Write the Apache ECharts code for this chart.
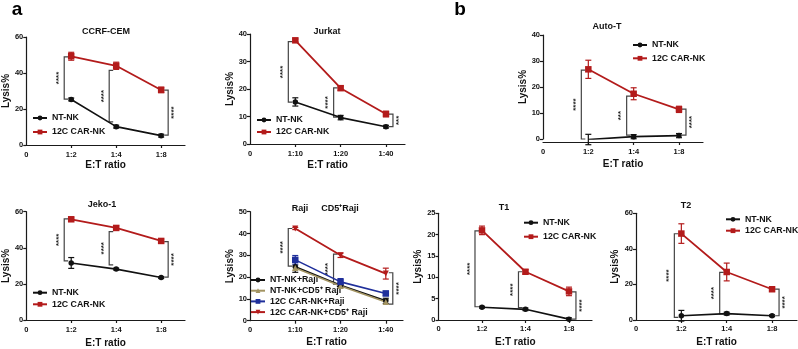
<!DOCTYPE html>
<html>
<head>
<meta charset="utf-8">
<script src="https://cdn.jsdelivr.net/npm/echarts@6/dist/echarts.min.js"></script>
<style>
  html, body { margin: 0; padding: 0; background: #fff; }
  #chart { width: 798px; height: 349px; }
</style>
</head>
<body>
<div id="chart"></div>
<script>
// E:T ratio categories (x = 1, 2, 3)
var ratiosShort = ['1:2', '1:4', '1:8'];
var ratiosLong = ['1:10', '1:20', '1:40'];

// CCRF-CEM
var ccrfNT = [25.3, 10.2, 5.2];
var ccrfNTErr = [0.8, 0.8, 0.8];
var ccrfCAR = [49.3, 44.0, 30.6];
var ccrfCARErr = [2.2, 2.0, 1.5];
var ccrfSig = [[1, 49, 25.5, '****'], [2, 41.5, 12.8, '****'], [3, 30.5, 5.5, '****']];

// Jurkat
var jurkatNT = [15.3, 9.6, 6.3];
var jurkatNTErr = [1.5, 0.8, 0.5];
var jurkatCAR = [37.7, 20.3, 10.9];
var jurkatCARErr = [0.5, 0.8, 1.0];
var jurkatSig = [[1, 37.2, 15.2, '****'], [2, 20.4, 9.8, '****'], [3, 10.9, 6.3, '***']];

// Auto-T
var autoNT = [-0.2, 0.9, 1.3];
var autoNTErr = [2.0, 0.8, 0.8];
var autoCAR = [26.8, 17.4, 11.4];
var autoCARErr = [3.5, 2.3, 1.2];
var autoSig = [[1, 26.5, 0, '****'], [2, 16.5, 1.5, '***'], [3, 11.5, 1.5, '****']];

// Jeko-1
var jekoNT = [31.6, 28.2, 23.5];
var jekoNTErr = [3.0, 0.5, 0.5];
var jekoCAR = [55.8, 51.0, 43.8];
var jekoCARErr = [0.8, 1.2, 1.0];
var jekoSig = [[1, 56, 32.8, '****'], [2, 49, 30.5, '****'], [3, 43.4, 23.7, '****']];

// Raji / CD5+ Raji
var rajiNT = [24.7, 16.3, 9.1];
var rajiNTErr = [2.5, 1.0, 1.2];
var cd5NT = [24.2, 15.9, 8.6];
var cd5NTErr = [1.0, 1.0, 1.0];
var rajiCAR = [27.9, 17.8, 12.5];
var rajiCARErr = [2.0, 1.5, 1.0];
var cd5CAR = [42.3, 30.0, 21.6];
var cd5CARErr = [0.5, 1.0, 2.5];
var rajiSig = [[1, 42.3, 25, '****'], [2, 30.5, 16.8, '****'], [3, 22, 7.6, '****']];

// T1
var t1NT = [3.0, 2.5, 0.2];
var t1NTErr = [0.2, 0.3, 0.3];
var t1CAR = [21.0, 11.3, 6.7];
var t1CARErr = [1.0, 0.5, 1.0];
var t1Sig = [[1, 20.9, 3.1, '****'], [2, 11.3, 2.9, '****'], [3, 6.6, 0.2, '****']];

// T2
var t2NT = [2.4, 3.6, 2.4];
var t2NTErr = [3.0, 0.8, 0.5];
var t2CAR = [48.6, 27.0, 17.3];
var t2CARErr = [5.5, 5.0, 1.0];
var t2Sig = [[1, 48.5, 1.5, '****'], [2, 26.8, 3.4, '****'], [3, 17.4, 2.4, '****']];

var BLACK = '#111111';
var RED = '#b31b1b';
var GOLD = '#a39462';
var BLUE = '#1f2f9b';
var FONT = '"Liberation Sans", Arial, sans-serif';

function nt(mean, err, name) {
  return { name: name || 'NT-NK', mean: mean, err: err, color: BLACK, symbol: 'circle', size: 5.5 };
}
function car(mean, err, name) {
  return { name: name || '12C CAR-NK', mean: mean, err: err, color: RED, symbol: 'rect', size: 6.5 };
}

var panels = [
  { titles: [['CCRF-CEM', 106, 32]], left: 26, top: 37, width: 159, height: 108, xMax: 3.53,
    yMax: 60, yInt: 20, labels: ratiosShort, xNameGap: 15, yNameGap: 13, labelMargin: 5.5,
    series: [nt(ccrfNT, ccrfNTErr), car(ccrfCAR, ccrfCARErr)], sig: ccrfSig,
    legend: { left: 32, top: 113, gap: 4 } },
  { titles: [['Jurkat', 327, 32]], left: 250, top: 34, width: 155, height: 110, xMax: 3.42,
    yMax: 40, yInt: 10, labels: ratiosLong, xNameGap: 16, yNameGap: 15, labelMargin: 5.5,
    series: [nt(jurkatNT, jurkatNTErr), car(jurkatCAR, jurkatCARErr)], sig: jurkatSig,
    legend: { left: 256, top: 115, gap: 2 } },
  { titles: [['Auto-T', 607, 27]], left: 543, top: 35, width: 160, height: 104, xMax: 3.53, xOffset: 3,
    yMax: 40, yInt: 10, labels: ratiosShort, xNameGap: 17, yNameGap: 15, labelMargin: 5.5,
    series: [nt(autoNT, autoNTErr), car(autoCAR, autoCARErr)], sig: autoSig,
    legend: { left: 632, top: 40, gap: 3.3 } },
  { titles: [['Jeko-1', 102, 205]], left: 26, top: 211.7, width: 159, height: 108.3, xMax: 3.53,
    yMax: 60, yInt: 20, labels: ratiosShort, xNameGap: 18, yNameGap: 14, labelMargin: 5.5,
    series: [nt(jekoNT, jekoNTErr), car(jekoCAR, jekoCARErr)], sig: jekoSig,
    legend: { left: 32, top: 287.7, gap: 1.6 } },
  { titles: [['Raji', 300, 209], ['CD5\u207ARaji', 340, 209]], left: 250, top: 211.7, width: 153, height: 109, xMax: 3.38,
    yMax: 50, yInt: 10, labels: ratiosLong, xNameGap: 17, yNameGap: 13, labelMargin: 5.5,
    series: [
      { name: 'NT-NK+Raji', mean: rajiNT, err: rajiNTErr, color: BLACK, symbol: 'circle', size: 5.5 },
      { name: 'NT-NK+CD5\u207A Raji', mean: cd5NT, err: cd5NTErr, color: GOLD, symbol: 'triangle', size: 6 },
      { name: '12C CAR-NK+Raji', mean: rajiCAR, err: rajiCARErr, color: BLUE, symbol: 'rect', size: 6.5 },
      { name: '12C CAR-NK+CD5\u207A Raji', mean: cd5CAR, err: cd5CARErr, color: RED, symbol: 'path://M0,0 L10,0 L5,9 Z', size: 6 }
    ], sig: rajiSig,
    legend: { left: 250, top: 275, gap: 0.7 } },
  { titles: [['T1', 504, 208]], left: 438.5, top: 213.3, width: 153.5, height: 106.7, xMax: 3.53,
    yMax: 25, yInt: 5, labels: ratiosShort, xNameGap: 17.5, yNameGap: 14.5, labelMargin: 5,
    series: [nt(t1NT, t1NTErr), car(t1CAR, t1CARErr)], sig: t1Sig,
    legend: { left: 523, top: 217.7, gap: 4 } },
  { titles: [['T2', 686, 206]], left: 636, top: 213.3, width: 161, height: 106.7, xMax: 3.55,
    yMax: 60, yInt: 20, labels: ratiosShort, xNameGap: 17.5, yNameGap: 16, labelMargin: 5,
    series: [nt(t2NT, t2NTErr), car(t2CAR, t2CARErr)], sig: t2Sig,
    legend: { left: 725, top: 214.3, gap: 1.4 } }
];

function renderErr(params, api) {
  var x = api.value(0);
  var a = api.coord([x, api.value(2)]);
  var b = api.coord([x, api.value(1)]);
  var c = api.visual('color');
  var w = 3;
  var st = { stroke: c, lineWidth: 1.2 };
  return {
    type: 'group',
    children: [
      { type: 'line', shape: { x1: a[0], y1: a[1], x2: b[0], y2: b[1] }, style: st },
      { type: 'line', shape: { x1: a[0] - w, y1: a[1], x2: a[0] + w, y2: a[1] }, style: st },
      { type: 'line', shape: { x1: b[0] - w, y1: b[1], x2: b[0] + w, y2: b[1] }, style: st }
    ]
  };
}

function makeBracket(sig) {
  return function (params, api) {
    var x = api.value(0);
    var t = api.coord([x, api.value(1)]);
    var b = api.coord([x, api.value(2)]);
    var side = params.dataIndex < 2 ? -1 : 1;
    var bx = t[0] + side * 7;
    var tip = bx - side * 4;
    var st = { stroke: '#444', lineWidth: 1.2, fill: null };
    return {
      type: 'group',
      children: [
        { type: 'polyline', shape: { points: [[tip, t[1]], [bx, t[1]], [bx, b[1]], [tip, b[1]]] }, style: st },
        { type: 'text', x: bx + side * 5.5, y: (t[1] + b[1]) / 2, rotation: Math.PI / 2,
          style: { text: sig[params.dataIndex][3], align: 'center', verticalAlign: 'middle',
                   fontSize: 8, fontWeight: 'bold', fontFamily: FONT, fill: '#222' } }
      ]
    };
  };
}

var axisColor = '#1a1a1a';
var option = {
  animation: false,
  backgroundColor: '#fff',
  grid: [], xAxis: [], yAxis: [], series: [], legend: [],
  graphic: [
    { type: 'text', x: 17, y: 10, style: { text: 'a', align: 'center', verticalAlign: 'middle', font: 'bold 19px ' + FONT, fill: '#000' } },
    { type: 'text', x: 460, y: 10, style: { text: 'b', align: 'center', verticalAlign: 'middle', font: 'bold 19px ' + FONT, fill: '#000' } }
  ]
};

panels.forEach(function (p, i) {
  option.grid.push({ left: p.left, top: p.top, width: p.width, height: p.height });
  option.xAxis.push({
    type: 'value', gridIndex: i, min: 0, max: p.xMax, offset: p.xOffset || 0,
    name: 'E:T ratio', nameLocation: 'middle', nameGap: p.xNameGap,
    nameTextStyle: { fontSize: 10, fontWeight: 'bold', color: '#111', fontFamily: FONT },
    splitLine: { show: false },
    axisLine: { onZero: false, lineStyle: { color: axisColor, width: 1.2 } },
    axisTick: { customValues: [1, 2, 3], length: 3, lineStyle: { color: axisColor, width: 1.2 } },
    axisLabel: {
      customValues: [0, 1, 2, 3], margin: p.labelMargin,
      fontSize: 7.5, fontWeight: 'bold', color: '#111', fontFamily: FONT,
      formatter: function (v) { return v === 0 ? '0' : p.labels[v - 1]; }
    }
  });
  option.yAxis.push({
    type: 'value', gridIndex: i, min: 0, max: p.yMax, interval: p.yInt,
    name: 'Lysis%', nameLocation: 'middle', nameGap: p.yNameGap,
    nameTextStyle: { fontSize: 10, fontWeight: 'bold', color: '#111', fontFamily: FONT },
    splitLine: { show: false },
    axisLine: { show: true, onZero: false, lineStyle: { color: axisColor, width: 1.2 } },
    axisTick: { show: true, length: 3, lineStyle: { color: axisColor, width: 1.2 } },
    axisLabel: { margin: 3, fontSize: 7.5, fontWeight: 'bold', color: '#111', fontFamily: FONT }
  });

  p.series.forEach(function (s) {
    option.series.push({
      type: 'custom', xAxisIndex: i, yAxisIndex: i, z: 3,
      itemStyle: { color: s.color },
      encode: { x: 0, y: [1, 2] },
      renderItem: renderErr,
      data: s.mean.map(function (v, k) { return [k + 1, v - s.err[k], v + s.err[k]]; })
    });
    option.series.push({
      type: 'line', name: s.name, xAxisIndex: i, yAxisIndex: i, z: 4,
      symbol: s.symbol, symbolSize: s.size,
      itemStyle: { color: s.color },
      lineStyle: { color: s.color, width: s.color === RED ? 1.8 : 1.6 },
      data: s.mean.map(function (v, k) { return [k + 1, v]; })
    });
  });

  option.series.push({
    type: 'custom', xAxisIndex: i, yAxisIndex: i, z: 2,
    encode: { x: 0, y: [1, 2] },
    renderItem: makeBracket(p.sig),
    data: p.sig.map(function (d) { return [d[0], d[1], d[2]]; })
  });

  option.legend.push({
    orient: 'vertical', left: p.legend.left, top: p.legend.top, padding: 0,
    itemWidth: 14, itemHeight: 6, itemGap: p.legend.gap, selectedMode: false,
    data: p.series.map(function (s) { return s.name; }),
    textStyle: { fontSize: 8.8, fontWeight: 'bold', color: '#111', fontFamily: FONT, lineHeight: 10 }
  });

  p.titles.forEach(function (t) {
    option.graphic.push({ type: 'text', x: t[1], y: t[2],
      style: { text: t[0], align: 'center', verticalAlign: 'middle', font: 'bold 9px ' + FONT, fill: '#111' } });
  });
});

var chart = echarts.init(document.getElementById('chart'));
chart.setOption(option);
</script>
</body>
</html>
